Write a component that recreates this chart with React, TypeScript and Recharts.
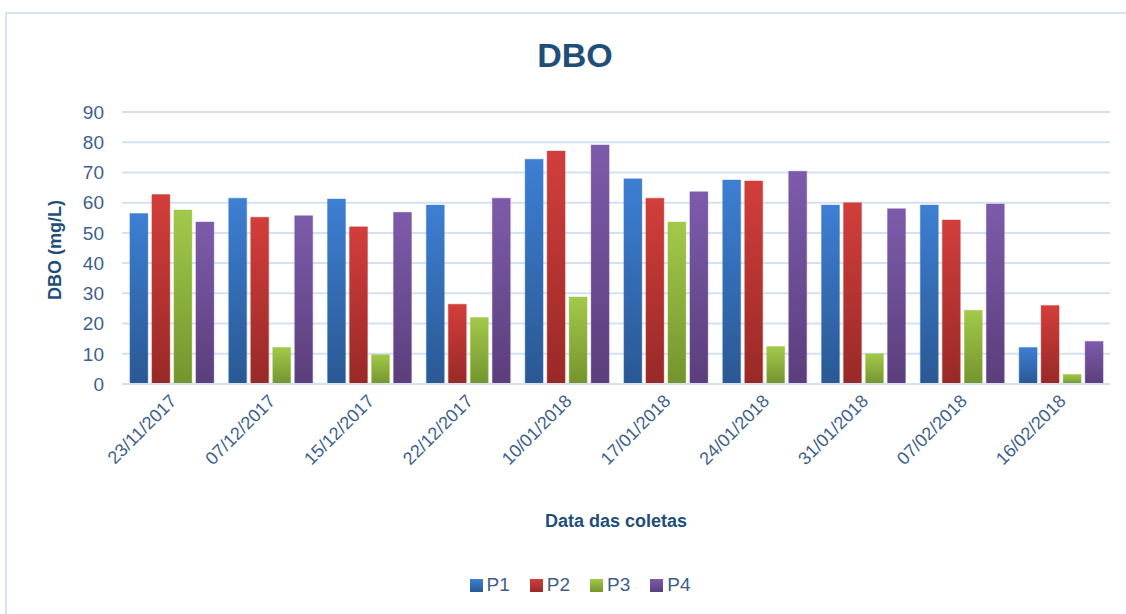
import React from 'react';
import { BarChart, Bar, XAxis, YAxis, CartesianGrid, Legend } from 'recharts';

const dates = [
  '23/11/2017', '07/12/2017', '15/12/2017', '22/12/2017', '10/01/2018',
  '17/01/2018', '24/01/2018', '31/01/2018', '07/02/2018', '16/02/2018',
];
const p1 = [56.4, 61.5, 61.2, 59.2, 74.4, 67.9, 67.5, 59.2, 59.2, 12.1];
const p2 = [62.7, 55.2, 52.0, 26.4, 77.1, 61.5, 67.2, 60.0, 54.3, 26.0];
const p3 = [57.6, 12.1, 9.7, 22.0, 28.8, 53.6, 12.4, 10.0, 24.4, 3.2];
const p4 = [53.6, 55.7, 56.8, 61.5, 79.1, 63.6, 70.4, 58.0, 59.6, 14.1];
const yTicks = [0, 10, 20, 30, 40, 50, 60, 70, 80, 90];

const data = dates.map((d, i) => ({ date: d, P1: p1[i], P2: p2[i], P3: p3[i], P4: p4[i] }));

const FONT = '"Liberation Sans", "Open Sans", sans-serif';
const TICK = '#3e5f8a';
const DARK = '#1f4e79';

const series = [
  { key: 'P1', top: '#3d7fd3', bottom: '#2a5893' },
  { key: 'P2', top: '#d23e3b', bottom: '#982927' },
  { key: 'P3', top: '#a2c94a', bottom: '#74942e' },
  { key: 'P4', top: '#7d5bab', bottom: '#5b3e7b' },
];

const XTick = (props: any) => {
  const { x, y, payload } = props;
  return (
    <g transform={`translate(${x + 2},${y + 6})`}>
      <text transform="rotate(-45)" textAnchor="end" dy={6} fill={TICK} fontSize={18} fontFamily={FONT}>
        {payload.value}
      </text>
    </g>
  );
};

export default function App() {
  return (
    <div style={{ position: 'absolute', left: 0, top: 0, width: 1126, height: 614, background: '#fff' }}>
      <div style={{ position: 'absolute', left: 5, top: 12, width: 1130, height: 610, border: '2px solid #d6e3f2', boxSizing: 'border-box' }} />
      <div style={{ position: 'absolute', left: 0, top: 36, width: 1150, textAlign: 'center', fontFamily: FONT, fontWeight: 'bold', fontSize: 34, color: DARK }}>
        DBO
      </div>
      <BarChart
        width={1126}
        height={614}
        data={data}
        margin={{ top: 112, right: 16, left: 0, bottom: 15 }}
        barGap={4}
        barCategoryGap="8%"
        style={{ position: 'absolute', left: 0, top: 0 }}
      >
        <defs>
          {series.map((s) => (
            <linearGradient key={s.key} id={`g${s.key}`} x1="0" y1="0" x2="0" y2="1">
              <stop offset="0%" stopColor={s.top} />
              <stop offset="100%" stopColor={s.bottom} />
            </linearGradient>
          ))}
        </defs>
        <CartesianGrid vertical={false} stroke="#d4e1f2" strokeWidth={2} />
        <XAxis
          dataKey="date"
          height={175}
          tickLine={false}
          axisLine={{ stroke: '#d4e1f2', strokeWidth: 2 }}
          tick={<XTick />}
          interval={0}
          label={{ value: 'Data das coletas', position: 'insideBottom', offset: 32, fill: DARK, fontSize: 18, fontWeight: 'bold', fontFamily: FONT }}
        />
        <YAxis
          width={122}
          domain={[0, 90]}
          ticks={yTicks}
          tickLine={false}
          axisLine={false}
          tickMargin={12}
          tick={{ fill: TICK, fontSize: 19, fontFamily: FONT }}
          label={{ value: 'DBO (mg/L)', angle: -90, position: 'insideLeft', offset: 55, dy: 52, fill: DARK, fontSize: 18, fontWeight: 'bold', fontFamily: FONT }}
        />
        <Legend
          verticalAlign="bottom"
          height={40}
          iconType="square"
          iconSize={13}
          wrapperStyle={{ fontFamily: FONT, fontSize: 19, bottom: 0, paddingLeft: 70, boxSizing: 'border-box' }}
          formatter={(v: string) => <span style={{ color: TICK, marginRight: 10 }}>{v}</span>}
        />
        {series.map((s) => (
          <Bar
            key={s.key}
            dataKey={s.key}
            fill={`url(#g${s.key})`}
            stroke={s.top}
            strokeOpacity={0.4}
            legendType="square"
            isAnimationActive={false}
          />
        ))}
      </BarChart>
    </div>
  );
}
